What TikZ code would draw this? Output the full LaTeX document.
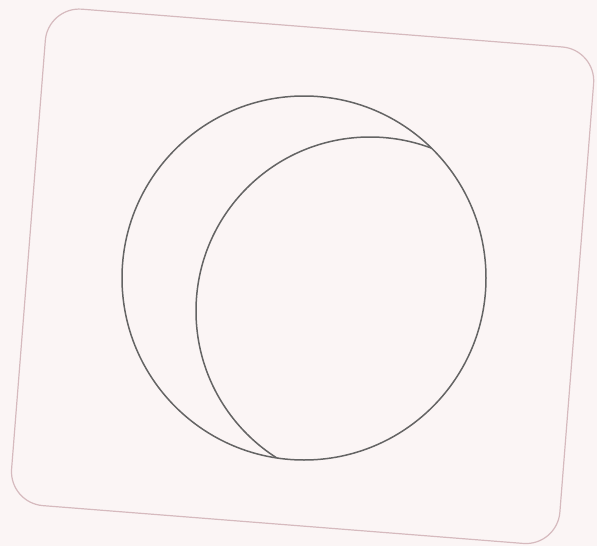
\documentclass[tikz,border=0pt]{standalone}
\definecolor{paper}{RGB}{251,245,245}
\definecolor{frame}{RGB}{214,186,190}
\definecolor{pencil}{RGB}{100,100,100}
\tikzset{
  cardframe/.style={draw=frame, line width=1.2pt, rounded corners=34pt},
  circline/.style={draw=pencil, line width=1.5pt}
}
\begin{document}
\begin{tikzpicture}[x=1pt,y=-1pt]
  \fill[paper] (0,0) rectangle (597,546);
  \useasboundingbox (0,0) rectangle (597,546);
  \coordinate (cardc) at (302.6,276.3);
  \draw[cardframe, rotate around={-4.5:(cardc)}] (27.6,27.3) rectangle (577.6,525.3);
  \coordinate (bigc) at (304,278);
  \coordinate (smallc) at (370,311);
  \draw[circline] (bigc) circle[radius=182];
  \begin{scope}
    \clip (bigc) circle[radius=182];
    \draw[circline] (smallc) circle[radius=174];
  \end{scope}
\end{tikzpicture}
\end{document}
